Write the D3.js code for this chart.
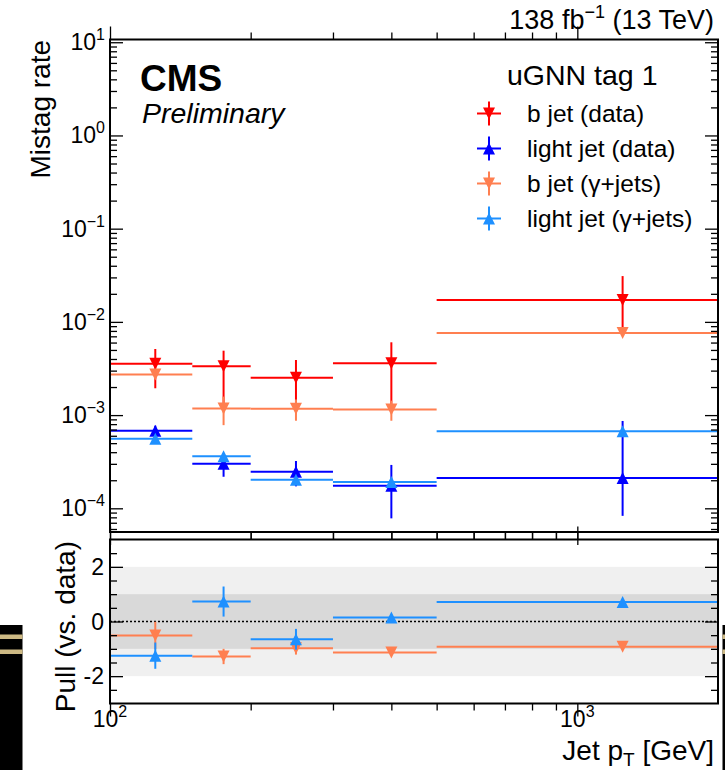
<!DOCTYPE html>
<html>
<head>
<meta charset="utf-8">
<script src="https://d3js.org/d3.v7.min.js"></script>
<style>
  body { margin: 0; background: #fff; }
  svg { display: block; font-family: "Liberation Sans", Arial, Helvetica, sans-serif; }
</style>
</head>
<body>
<div id="figure"></div>
<script>
// jet pT bins [GeV]
var binEdges = [100, 150, 200, 300, 500, 2000];
var binCenters = [125, 175, 250, 400, 1250];

// mistag rate, b jets in data
var bjetData = [3.56e-3, 3.34e-3, 2.52e-3, 3.60e-3, 1.72e-2];
var bjetDataLo = [1.62e-3, 2.00e-3, 1.38e-3, 2.44e-3, 1.00e-2];
var bjetDataHi = [1.56e-3, 1.57e-3, 1.38e-3, 2.44e-3, 1.38e-2];

// mistag rate, light jets in data
var lightData = [6.8e-4, 3.01e-4, 2.47e-4, 1.75e-4, 2.11e-4];
var lightDataLo = [0.9e-4, 0.83e-4, 0.75e-4, 0.97e-4, 1.28e-4];
var lightDataHi = [0.9e-4, 0.83e-4, 0.75e-4, 1.17e-4, 6.54e-4];

// mistag rate, b jets in gamma+jets simulation
var bjetMC = [2.72e-3, 1.18e-3, 1.17e-3, 1.15e-3, 7.6e-3];
var bjetMCErr = [0.3e-3, 0.4e-3, 0.3e-3, 0.28e-3, 0.5e-3];

// mistag rate, light jets in gamma+jets simulation
var lightMC = [5.58e-4, 3.61e-4, 2.03e-4, 1.91e-4, 6.7e-4];
var lightMCErr = [0.2e-4, 0.2e-4, 0.15e-4, 0.15e-4, 0.5e-4];

// pulls vs. data
var pullBjet = [-0.51, -1.28, -0.98, -1.13, -0.92];
var pullBjetErr = [0.5, 0.28, 0.23, 0.1, 0.1];
var pullLight = [-1.25, 0.73, -0.65, 0.15, 0.71];
var pullLightErr = [0.48, 0.55, 0.38, 0.1, 0.1];

var legendLabels = ["b jet (data)", "light jet (data)", "b jet (\u03b3+jets)", "light jet (\u03b3+jets)"];

var W = 725, H = 770;
var left = 110, right = 718;
var mainTop = 39.5, mainBottom = 532;
var pullTop = 539.5, pullBottom = 703.5;

var svg = d3.select("#figure").append("svg").attr("width", W).attr("height", H);

var x = d3.scaleLog().domain([100, 2000]).range([left, right]);
var y = d3.scaleLog().domain([5.57e-5, 10.7]).range([mainBottom, mainTop]);
var yp = d3.scaleLinear().domain([-3, 3]).range([pullBottom, pullTop]);

var series = [
  { values: bjetData, lo: bjetDataLo, hi: bjetDataHi, color: "#ff0000", shape: "down" },
  { values: lightData, lo: lightDataLo, hi: lightDataHi, color: "#0000ff", shape: "up" },
  { values: bjetMC, lo: bjetMCErr, hi: bjetMCErr, color: "#ff7f50", shape: "down" },
  { values: lightMC, lo: lightMCErr, hi: lightMCErr, color: "#1e90ff", shape: "up" }
];

var pulls = [
  { values: pullBjet, lo: pullBjetErr, hi: pullBjetErr, color: "#ff7f50", shape: "down" },
  { values: pullLight, lo: pullLightErr, hi: pullLightErr, color: "#1e90ff", shape: "up" }
];

function triangle(shape) {
  return shape === "down" ? "M-6,-6L6,-6L0,6Z" : "M0,-6L6,6L-6,6Z";
}

function minorLog(lo, hi) {
  var out = [];
  for (var k = -6; k <= 3; k++) {
    for (var m = 2; m <= 9; m++) {
      var v = m * Math.pow(10, k);
      if (v > lo && v < hi) out.push(v);
    }
  }
  return out;
}

// odd black strips at the image edges
[[0, 22.5], [722.5, 2.5]].forEach(function (s) {
  svg.append("rect").attr("x", s[0]).attr("y", 625).attr("width", s[1]).attr("height", H - 625).attr("fill", "#000");
  svg.append("rect").attr("x", s[0]).attr("y", 634.5).attr("width", s[1]).attr("height", 4.5).attr("fill", "#cdb984");
  svg.append("rect").attr("x", s[0]).attr("y", 649.5).attr("width", s[1]).attr("height", 4.5).attr("fill", "#cdb984");
});

// pull bands
svg.append("rect").attr("x", left).attr("width", right - left)
  .attr("y", yp(2)).attr("height", yp(-2) - yp(2)).attr("fill", "#f0f0f0");
svg.append("rect").attr("x", left).attr("width", right - left)
  .attr("y", yp(1)).attr("height", yp(-1) - yp(1)).attr("fill", "#d9d9d9");
svg.append("line").attr("x1", left).attr("x2", right).attr("y1", yp(0)).attr("y2", yp(0))
  .attr("stroke", "#000").attr("stroke-width", 1.5).attr("stroke-dasharray", "2,2");

function drawSeries(g, ys, s) {
  var grp = g.append("g");
  var pts = grp.selectAll("g").data(s.values).enter().append("g");
  pts.append("line")
    .attr("x1", function (d, i) { return x(binEdges[i]); })
    .attr("x2", function (d, i) { return x(binEdges[i + 1]); })
    .attr("y1", function (d) { return ys(d); })
    .attr("y2", function (d) { return ys(d); })
    .attr("stroke", s.color).attr("stroke-width", 2);
  pts.append("line")
    .attr("x1", function (d, i) { return x(binCenters[i]); })
    .attr("x2", function (d, i) { return x(binCenters[i]); })
    .attr("y1", function (d, i) { return ys(d - s.lo[i]); })
    .attr("y2", function (d, i) { return ys(d + s.hi[i]); })
    .attr("stroke", s.color).attr("stroke-width", 2);
  pts.append("path")
    .attr("d", triangle(s.shape))
    .attr("transform", function (d, i) { return "translate(" + x(binCenters[i]) + "," + ys(d) + ")"; })
    .attr("fill", s.color);
}

var mainG = svg.append("g");
series.forEach(function (s) { drawSeries(mainG, y, s); });
var pullG = svg.append("g");
pulls.forEach(function (s) { drawSeries(pullG, yp, s); });

// ticks
function ticks(axis, tx, ty, size) {
  var g = svg.append("g").attr("transform", "translate(" + tx + "," + ty + ")")
    .call(axis.tickSize(-size).tickSizeOuter(0).tickFormat(""));
  g.select(".domain").remove();
  g.selectAll("line").attr("stroke", "#000").attr("stroke-width", 1.3);
}

var xMajor = [100, 1000];
var xMinor = minorLog(100, 2000).concat([2000]).filter(function (v) { return v < 2000; });
[[mainTop, mainBottom], [pullTop, pullBottom]].forEach(function (p) {
  ticks(d3.axisTop(x).tickValues(xMajor), 0, p[1], 13);
  ticks(d3.axisTop(x).tickValues(xMinor), 0, p[1], 7);
  ticks(d3.axisBottom(x).tickValues(xMajor), 0, p[0], 13);
  ticks(d3.axisBottom(x).tickValues(xMinor), 0, p[0], 7);
});

var yMajor = [1e-4, 1e-3, 1e-2, 1e-1, 1, 10];
var yMinor = minorLog(5.57e-5, 10.7);
ticks(d3.axisLeft(y).tickValues(yMajor), left, 0, 13);
ticks(d3.axisLeft(y).tickValues(yMinor), left, 0, 7);
ticks(d3.axisRight(y).tickValues(yMajor), right, 0, 13);
ticks(d3.axisRight(y).tickValues(yMinor), right, 0, 7);

var pMajor = [-2, 0, 2];
var pMinor = [-2.5, -1.5, -1, -0.5, 0.5, 1, 1.5, 2.5];
ticks(d3.axisLeft(yp).tickValues(pMajor), left, 0, 13);
ticks(d3.axisLeft(yp).tickValues(pMinor), left, 0, 7);
ticks(d3.axisRight(yp).tickValues(pMajor), right, 0, 13);
ticks(d3.axisRight(yp).tickValues(pMinor), right, 0, 7);

// frames
[[mainTop, mainBottom], [pullTop, pullBottom]].forEach(function (p) {
  svg.append("rect").attr("x", left).attr("y", p[0]).attr("width", right - left).attr("height", p[1] - p[0])
    .attr("fill", "none").attr("stroke", "#000").attr("stroke-width", 2);
});

// tick labels
function powLabel(sel, exp) {
  sel.append("tspan").text("10");
  sel.append("tspan").attr("dy", -10).attr("font-size", 16).text(exp < 0 ? "\u2212" + (-exp) : exp);
}
yMajor.forEach(function (v) {
  var t = svg.append("text").attr("x", 105).attr("y", y(v) + 8)
    .attr("text-anchor", "end").attr("font-size", 23);
  powLabel(t, Math.round(Math.log10(v)));
});
xMajor.forEach(function (v) {
  var t = svg.append("text").attr("x", x(v)).attr("y", 727)
    .attr("text-anchor", "middle").attr("font-size", 23);
  powLabel(t, Math.round(Math.log10(v)));
});
pMajor.forEach(function (v) {
  svg.append("text").attr("x", 104).attr("y", yp(v) + 8)
    .attr("text-anchor", "end").attr("font-size", 23).text(v);
});

// axis titles
svg.append("text").attr("transform", "translate(50,40) rotate(-90)")
  .attr("text-anchor", "end").attr("font-size", 28).text("Mistag rate");
svg.append("text").attr("transform", "translate(75,541) rotate(-90)")
  .attr("text-anchor", "end").attr("font-size", 28).text("Pull (vs. data)");
var xt = svg.append("text").attr("x", 714).attr("y", 760).attr("text-anchor", "end").attr("font-size", 28);
xt.append("tspan").text("Jet p");
xt.append("tspan").attr("dy", 6).attr("font-size", 19).text("T");
xt.append("tspan").attr("dy", -6).text(" [GeV]");

// header texts
var lumi = svg.append("text").attr("x", 714).attr("y", 29).attr("text-anchor", "end").attr("font-size", 27);
lumi.append("tspan").text("138 fb");
lumi.append("tspan").attr("dy", -11).attr("font-size", 18).text("\u22121");
lumi.append("tspan").attr("dy", 11).text(" (13 TeV)");

svg.append("text").attr("x", 140).attr("y", 91).attr("font-size", 37).attr("font-weight", "bold").text("CMS");
svg.append("text").attr("x", 142).attr("y", 123).attr("font-size", 28.5).attr("font-style", "italic").text("Preliminary");

// legend
svg.append("text").attr("x", 507).attr("y", 85).attr("font-size", 28.5).text("uGNN tag 1");
series.forEach(function (s, i) {
  var ly = 113.5 + i * 35;
  var lg = svg.append("g").attr("transform", "translate(489," + ly + ")");
  lg.append("line").attr("x1", -12).attr("x2", 12).attr("stroke", s.color).attr("stroke-width", 2);
  lg.append("line").attr("y1", -12).attr("y2", 12).attr("stroke", s.color).attr("stroke-width", 2);
  lg.append("path").attr("d", triangle(s.shape)).attr("fill", s.color);
  svg.append("text").attr("x", 527).attr("y", ly + 8).attr("font-size", 24.5).text(legendLabels[i]);
});
</script>
</body>
</html>
